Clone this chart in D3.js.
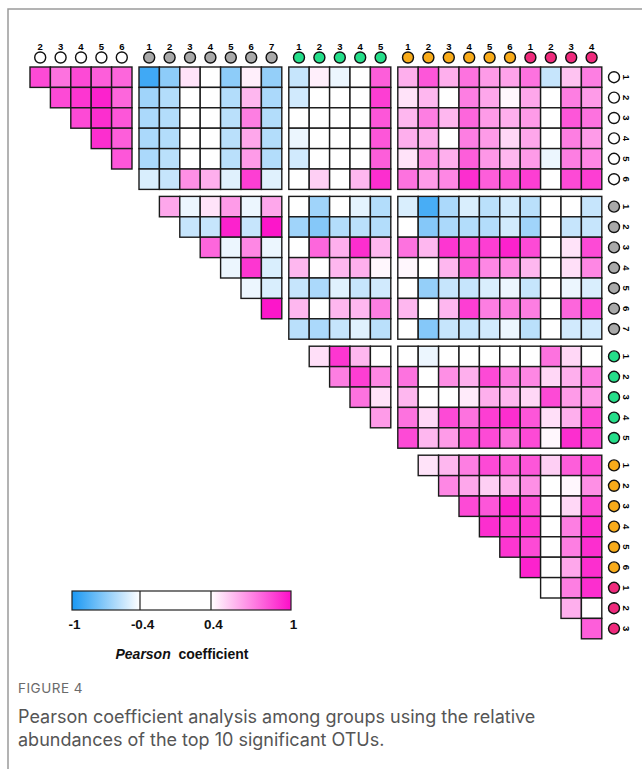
<!DOCTYPE html>
<html>
<head>
<meta charset="utf-8">
<script src="https://cdn.jsdelivr.net/npm/d3@7"></script>
<style>
  html, body { margin: 0; padding: 0; background: #fff; }
  svg { display: block; }
</style>
</head>
<body>
<script>
// groups of OTUs: white, gray, green, orange, pink
const groupKeys = ['W', 'G', 'E', 'O', 'P'];
const groupSizes = [6, 7, 5, 6, 4];
const groupFill = ['#ffffff', '#a9a9a9', '#25de8a', '#f8ab1a', '#ef2a7c'];
const groupBlock = [0, 1, 2, 3, 3]; // orange and pink share one block

// correlation rows (upper triangle, values for every later variable)
const w1 = [0.85, 0.75, 0.85, 0.8, 0.78, -0.9, -0.7, 0.47, 0, -0.7, 0.44, -0.68, -0.55, 0.44, -0.45, 0, 0.8, 0.6, 0.82, 0.6, 0.75, 0.65, 0.63, 0.75, -0.55, 0.55, 0.72];
const w2 = [0.85, 0.9, 0.95, 0.78, -0.65, -0.6, 0, 0, -0.6, 0.58, -0.62, -0.52, 0, 0, 0, 0.88, 0.47, 0.58, 0, 0.72, 0.62, 0.42, 0.62, 0, 0.72, 0.65];
const w3 = [0.85, 0.92, 0.82, -0.62, -0.6, 0, 0, -0.58, 0.72, -0.6, 0, 0, 0, 0, 0.82, 0.58, 0.72, 0.58, 0.78, 0.65, 0.6, 0.65, 0, 0.82, 0.75];
const w4 = [0.92, 0.8, -0.62, -0.6, 0, 0, -0.58, 0.62, -0.6, -0.45, 0, 0, 0, 0.82, 0.6, 0.6, 0, 0.72, 0.65, 0.5, 0.62, 0, 0.72, 0.65];
const w5 = [0.82, -0.62, -0.58, 0, 0, -0.58, 0.65, -0.6, -0.52, 0, 0, 0, 0.8, 0.47, 0.68, 0.6, 0.8, 0.66, 0.58, 0.65, -0.45, 0.72, 0.7];
const w6 = [-0.5, -0.55, 0.68, 0.6, -0.48, 0.88, -0.48, 0, 0.52, 0, 0.58, 0.92, 0.75, 0.65, 0.7, 0.92, 0.8, 0.82, 0.88, 0, 0.85, 0.88];
const g1 = [0.62, -0.45, 0.47, 0.65, -0.45, 0.62, 0, -0.65, 0, -0.47, -0.6, -0.5, -0.88, -0.62, -0.5, -0.58, -0.52, -0.58, 0, 0, -0.55];
const g2 = [-0.55, -0.55, 0.95, -0.55, 0.98, -0.65, -0.72, -0.6, -0.58, -0.6, 0, -0.72, -0.62, -0.6, -0.6, -0.52, -0.65, 0, -0.55, -0.55];
const g3 = [0.78, -0.45, 0.7, -0.45, 0, 0.78, 0.6, 0.92, 0.58, 0.75, 0.58, 0.9, 0.85, 0.88, 0.95, 0.85, 0, 0.47, 0.85];
const g4 = [-0.45, 0.9, -0.5, 0.58, 0, 0.58, 0.6, 0.42, 0.42, 0, 0.58, 0.8, 0.7, 0.68, 0.58, 0, 0.48, 0.7];
const g5 = [-0.45, -0.5, -0.55, -0.62, -0.48, -0.55, -0.52, 0, -0.68, -0.55, -0.55, -0.5, -0.45, -0.55, 0, -0.45, -0.5];
const g6 = [0.98, 0.58, 0, 0.58, 0.58, 0.72, 0.58, 0, 0.58, 0.88, 0.72, 0.72, 0.72, 0, 0.78, 0.85];
const g7 = [-0.58, -0.62, -0.55, -0.48, -0.58, 0, -0.72, -0.55, -0.55, -0.52, -0.45, -0.58, 0, -0.52, -0.52];
const e1 = [0.48, 0.9, 0.58, 0, 0, -0.45, 0, 0, 0, 0, 0, 0.75, 0.5, 0];
const e2 = [0.72, 0.88, 0.7, 0.75, 0, 0.68, 0.6, 0.85, 0.72, 0.7, 0.5, 0.6, 0.72];
const e3 = [0.75, 0.47, 0.58, 0, 0, 0.45, 0.6, 0.58, 0.5, 0.85, 0.65, 0.65];
const e4 = [0.65, 0.75, 0.5, 0.85, 0.75, 0.88, 0.92, 0.82, 0.48, 0.6, 0.85];
const e5 = [0.85, 0.58, 0.65, 0.82, 0.85, 0.75, 0.85, 0.42, 0.92, 0.85];
const o1 = [0.47, 0.58, 0.72, 0.85, 0.8, 0.82, 0.52, 0.8, 0.85];
const o2 = [0.7, 0.62, 0.52, 0.6, 0.68, 0, 0.42, 0.68];
const o3 = [0.85, 0.82, 0.95, 0.85, 0, 0.5, 0.85];
const o4 = [0.92, 0.88, 0.9, 0, 0.72, 0.92];
const o5 = [0.9, 0.85, 0, 0.72, 0.92];
const o6 = [0.95, 0, 0.62, 0.92];
const p1 = [0, 0.72, 0.92];
const p2 = [0.6, 0];
const p3 = [0.8];
const rows = [w1, w2, w3, w4, w5, w6, g1, g2, g3, g4, g5, g6, g7, e1, e2, e3, e4, e5, o1, o2, o3, o4, o5, o6, p1, p2, p3];

const legendTicks = [-1, -0.4, 0.4, 1];
const captionTitle = 'FIGURE 4';
const captionLines = [
  'Pearson coefficient analysis among groups using the relative',
  'abundances of the top 10 significant OTUs.',
];

const width = 642;
const height = 769;
const cell = 20.4;
const gap = 7;
const gridLeft = 30;
const gridTop = 67;

const vars = [];
groupKeys.forEach((g, gi) => {
  d3.range(1, groupSizes[gi] + 1).forEach(k => {
    vars.push({ id: g + k, num: k, group: gi, block: groupBlock[gi] });
  });
});
const byId = new Map(vars.map(v => [v.id, v]));
const colVars = vars.slice(1);
const rowVars = vars.slice(0, vars.length - 1);

const xBand = d3.scaleBand(colVars.map(v => v.id), [gridLeft, gridLeft + colVars.length * cell]);
const yBand = d3.scaleBand(rowVars.map(v => v.id), [gridTop, gridTop + rowVars.length * cell]);
const x = id => xBand(id) + gap * byId.get(id).block;
const y = id => yBand(id) + gap * byId.get(id).block;

const color = d3
  .scaleLinear()
  .domain([-1, -0.4, 0.4, 1])
  .range(['#1a98f3', '#ffffff', '#ffffff', '#fc0ec8'])
  .clamp(true);

const cells = [];
rows.forEach((vals, i) => {
  vals.forEach((v, k) => {
    cells.push({ row: vars[i].id, col: vars[i + 1 + k].id, v });
  });
});

const svg = d3
  .select('body')
  .append('svg')
  .attr('width', width)
  .attr('height', height);

svg.append('rect').attr('width', width).attr('height', height).attr('fill', '#fff');

// frame
svg
  .append('path')
  .attr('d', `M8,${height} V9 H${width}`)
  .attr('fill', 'none')
  .attr('stroke', '#9a9a9a')
  .attr('stroke-width', 1.5);

// cells
svg
  .append('g')
  .selectAll('rect')
  .data(cells)
  .enter()
  .append('rect')
  .attr('x', d => x(d.col))
  .attr('y', d => y(d.row))
  .attr('width', xBand.bandwidth())
  .attr('height', yBand.bandwidth())
  .attr('fill', d => color(d.v))
  .attr('stroke', '#1a1a1a')
  .attr('stroke-width', 1.4);

// top labels
const topLab = svg
  .append('g')
  .selectAll('g')
  .data(colVars)
  .enter()
  .append('g')
  .attr('transform', d => `translate(${x(d.id) + cell / 2}, 0)`);
topLab
  .append('text')
  .attr('y', 50)
  .attr('text-anchor', 'middle')
  .attr('font-family', 'Liberation Sans, Arial, sans-serif')
  .attr('font-weight', 'bold')
  .attr('font-size', 9.5)
  .text(d => d.num);
topLab
  .append('circle')
  .attr('cy', 57.5)
  .attr('r', 5.5)
  .attr('fill', d => groupFill[d.group])
  .attr('stroke', '#111')
  .attr('stroke-width', 1.4);

// right labels
const rightLab = svg
  .append('g')
  .selectAll('g')
  .data(rowVars)
  .enter()
  .append('g')
  .attr('transform', d => `translate(0, ${y(d.id) + cell / 2})`);
rightLab
  .append('circle')
  .attr('cx', 614)
  .attr('r', 5.5)
  .attr('fill', d => groupFill[d.group])
  .attr('stroke', '#111')
  .attr('stroke-width', 1.4);
rightLab
  .append('text')
  .attr('transform', 'translate(623, 0) rotate(90)')
  .attr('text-anchor', 'middle')
  .attr('font-family', 'Liberation Sans, Arial, sans-serif')
  .attr('font-weight', 'bold')
  .attr('font-size', 9.5)
  .text(d => d.num);

// legend
const legendScale = d3.scaleLinear().domain(legendTicks).range([72, 140, 211, 291]);
const defs = svg.append('defs');
const grad = defs
  .append('linearGradient')
  .attr('id', 'legend-grad')
  .attr('gradientUnits', 'userSpaceOnUse')
  .attr('x1', legendScale(-1))
  .attr('x2', legendScale(1));
const stops = [-1, -0.85, -0.7, -0.55, -0.4, 0.4, 0.55, 0.7, 0.85, 1];
stops.forEach(s => {
  grad
    .append('stop')
    .attr('offset', (legendScale(s) - legendScale(-1)) / (legendScale(1) - legendScale(-1)))
    .attr('stop-color', color(s));
});
const legend = svg.append('g').attr('id', 'legend');
legend
  .append('rect')
  .attr('x', legendScale(-1))
  .attr('y', 591)
  .attr('width', legendScale(1) - legendScale(-1))
  .attr('height', 19)
  .attr('fill', 'url(#legend-grad)')
  .attr('stroke', '#222')
  .attr('stroke-width', 1.2);
legend
  .selectAll('.divider')
  .data([-0.4, 0.4])
  .enter()
  .append('line')
  .attr('x1', d => legendScale(d))
  .attr('x2', d => legendScale(d))
  .attr('y1', 591)
  .attr('y2', 610)
  .attr('stroke', '#222')
  .attr('stroke-width', 1.2);
const legendAxis = d3
  .axisBottom(legendScale)
  .tickValues(legendTicks)
  .tickFormat(d => String(d))
  .tickSize(0)
  .tickPadding(0);
const lg = legend.append('g').attr('transform', 'translate(2, 619)').call(legendAxis);
lg.select('.domain').remove();
lg.selectAll('text')
  .attr('font-family', 'Liberation Sans, Arial, sans-serif')
  .attr('font-weight', 'bold')
  .attr('font-size', 13.5)
  .attr('fill', '#111');
const ltitle = legend
  .append('text')
  .attr('x', 182)
  .attr('y', 659)
  .attr('text-anchor', 'middle')
  .attr('font-family', 'Liberation Sans, Arial, sans-serif')
  .attr('font-weight', 'bold')
  .attr('font-size', 14)
  .attr('fill', '#111');
ltitle.append('tspan').attr('font-style', 'italic').text('Pearson');
ltitle.append('tspan').text('\u00a0 coefficient');

// caption
svg
  .append('text')
  .attr('x', 18)
  .attr('y', 693)
  .attr('font-family', 'Inter, sans-serif')
  .attr('font-size', 13.5)
  .attr('letter-spacing', 0.5)
  .attr('fill', '#6a6a6a')
  .text(captionTitle);
svg
  .selectAll('.cap')
  .data(captionLines)
  .enter()
  .append('text')
  .attr('class', 'cap')
  .attr('x', 18)
  .attr('y', (d, i) => 723 + i * 23)
  .attr('font-family', 'Inter, sans-serif')
  .attr('font-size', 18)
  .attr('fill', '#555')
  .text(d => d);
</script>
</body>
</html>
